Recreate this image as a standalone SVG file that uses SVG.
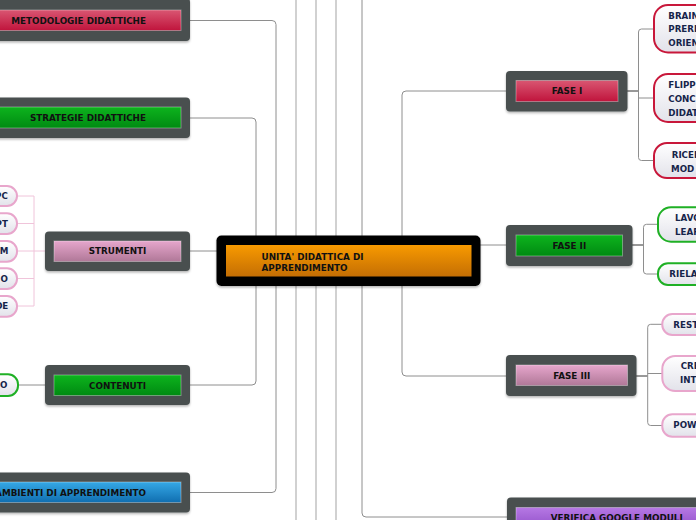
<svg xmlns="http://www.w3.org/2000/svg" width="696" height="520" viewBox="0 0 696 520">
<defs>
<linearGradient id="gRed" x1="0" y1="0" x2="0" y2="1"><stop offset="0" stop-color="#d95672"/><stop offset="1" stop-color="#c0143c"/></linearGradient>
<linearGradient id="gGreen" x1="0" y1="0" x2="0" y2="1"><stop offset="0" stop-color="#0db41d"/><stop offset="1" stop-color="#008a12"/></linearGradient>
<linearGradient id="gPink" x1="0" y1="0" x2="0" y2="1"><stop offset="0" stop-color="#e6a6cc"/><stop offset="1" stop-color="#b07898"/></linearGradient>
<linearGradient id="gBlue" x1="0" y1="0" x2="0" y2="1"><stop offset="0" stop-color="#35a8e6"/><stop offset="1" stop-color="#106eb0"/></linearGradient>
<linearGradient id="gOrange" x1="0" y1="0" x2="0" y2="1"><stop offset="0" stop-color="#f89a00"/><stop offset="1" stop-color="#c46e04"/></linearGradient>
<linearGradient id="gPurple" x1="0" y1="0" x2="0" y2="1"><stop offset="0" stop-color="#b678e4"/><stop offset="1" stop-color="#9150c8"/></linearGradient>
<linearGradient id="gPill" x1="0" y1="0" x2="0" y2="1"><stop offset="0" stop-color="#ffffff"/><stop offset="1" stop-color="#e2e2ea"/></linearGradient>
<filter id="sh" x="-10%" y="-20%" width="120%" height="150%"><feDropShadow dx="0" dy="1.5" stdDeviation="1.2" flood-color="#000" flood-opacity="0.3"/></filter>
</defs>
<style>
.frame{fill:#484f4f;filter:url(#sh)}
.bar{stroke:rgba(255,255,255,0.35);stroke-width:1}
.t{font-family:"DejaVu Sans",Verdana,sans-serif;font-weight:bold;font-size:8.8px;fill:#111}
.c{font-family:"DejaVu Sans",Verdana,sans-serif;font-weight:bold;font-size:8.7px;fill:#16244a}
.pill{fill:url(#gPill);stroke-width:2}
.pr{stroke:#c8173a}.pg{stroke:#1fb025}.pp{stroke:#e8a6cc}
.ln{fill:none;stroke:#8e8e8e;stroke-width:1}
.lt{fill:none;stroke:#c2c2c2;stroke-width:1.5}
.ld{fill:none;stroke:#333;stroke-width:1}
.lp{fill:none;stroke:#f0c4da;stroke-width:1}
</style>
<g id="connectors">
<path class="lt" d="M296,0V520M316,0V520M336,0V520"/>
<path class="ln" d="M362,0V513Q362,517 366,517H507"/>
<path class="ln" d="M190,20.5H272Q276,20.5 276,24.5V260"/>
<path class="ln" d="M190,492.5H272Q276,492.5 276,488.5V260"/>
<path class="ln" d="M190,118H252Q256,118 256,122V260"/>
<path class="ln" d="M190,385H252Q256,385 256,381V260"/>
<path class="ln" d="M190,251H220"/>
<path class="ln" d="M18,385H45"/>
<path class="ln" d="M402,260V95Q402,91 406,91H507"/>
<path class="ln" d="M402,260V372Q402,376 406,376H507"/>
<path class="ln" d="M478,245H507"/>
<path class="ld" d="M627,91H638.5"/>
<path class="ln" d="M654,29H641.5Q638.5,29 638.5,32V157.5Q638.5,160.5 641.5,160.5H654M638.5,98H654"/>
<path class="ld" d="M632,245H643.5"/>
<path class="ln" d="M658,224.3H646.5Q643.5,224.3 643.5,227.3V271Q643.5,274 646.5,274H658"/>
<path class="ld" d="M636,376H647.7"/>
<path class="ln" d="M662,324.3H650.7Q647.7,324.3 647.7,327.3V422.5Q647.7,425.5 650.7,425.5H662M647.7,373.5H662"/>
<path class="lp" d="M17,196H34V306H17M17,223.5H34M17,251H45M17,278.5H34"/>
</g>
<g id="metodologie"><rect class="frame" x="-40" y="-2" width="230" height="43" rx="4"/><rect class="bar" x="-30" y="10" width="211" height="20.5" fill="url(#gRed)"/><text class="t" x="146" y="23.6" text-anchor="end">METODOLOGIE DIDATTICHE</text></g>
<g id="strategie"><rect class="frame" x="-40" y="97.5" width="230" height="40.5" rx="4"/><rect class="bar" x="-30" y="107" width="211" height="21" fill="url(#gGreen)"/><text class="t" x="146" y="121" text-anchor="end">STRATEGIE DIDATTICHE</text></g>
<g id="strumenti"><rect class="frame" x="45" y="231.5" width="145" height="39.5" rx="4"/><rect class="bar" x="54" y="241" width="127" height="20.5" fill="url(#gPink)"/><text class="t" x="117.5" y="254.3" text-anchor="middle">STRUMENTI</text></g>
<g id="contenuti"><rect class="frame" x="45" y="365" width="145" height="40" rx="4"/><rect class="bar" x="54" y="375" width="127" height="20.5" fill="url(#gGreen)"/><text class="t" x="117.5" y="388.6" text-anchor="middle">CONTENUTI</text></g>
<g id="ambienti"><rect class="frame" x="-40" y="472.5" width="230" height="40" rx="4"/><rect class="bar" x="-30" y="482" width="211" height="20.5" fill="url(#gBlue)"/><text class="t" x="146" y="495.8" text-anchor="end">AMBIENTI DI APPRENDIMENTO</text></g>
<g id="centrale"><rect x="216.5" y="235.5" width="264" height="50.5" rx="5" fill="#000" filter="url(#sh)"/><rect x="226" y="245" width="245.5" height="31.5" fill="url(#gOrange)"/><text class="t" x="261.5" y="259.5">UNITA' DIDATTICA DI</text><text class="t" x="261.5" y="271">APPRENDIMENTO</text></g>
<g id="fase1"><rect class="frame" x="506" y="71" width="121.5" height="40.5" rx="4"/><rect class="bar" x="516" y="80.5" width="102" height="21" fill="url(#gRed)"/><text class="t" x="567" y="94.3" text-anchor="middle">FASE I</text></g>
<g id="fase2"><rect class="frame" x="506" y="225" width="126.5" height="41" rx="4"/><rect class="bar" x="516" y="235" width="106.5" height="21" fill="url(#gGreen)"/><text class="t" x="569.3" y="248.7" text-anchor="middle">FASE II</text></g>
<g id="fase3"><rect class="frame" x="506" y="355" width="130.5" height="41" rx="4"/><rect class="bar" x="516" y="365" width="111.5" height="20.5" fill="url(#gPink)"/><text class="t" x="571.7" y="378.7" text-anchor="middle">FASE III</text></g>
<g id="verifica"><rect class="frame" x="507" y="497.5" width="220" height="40" rx="4"/><rect class="bar" x="516" y="507.5" width="202" height="21" fill="url(#gPurple)"/><text class="t" x="616.7" y="521" text-anchor="middle">VERIFICA GOOGLE MODULI</text></g>
<g id="brain"><rect class="pill pr" x="654" y="5" width="80" height="47.5" rx="14"/><text class="c" x="668.3" y="18.8">BRAIN</text><text class="c" x="668.3" y="32.2">PRERE</text><text class="c" x="668.3" y="45.5">ORIEN</text></g>
<g id="flipp"><rect class="pill pr" x="654" y="74" width="80" height="48" rx="14"/><text class="c" x="668.3" y="88">FLIPP</text><text class="c" x="668.3" y="101.8">CONC</text><text class="c" x="668.3" y="115.8">DIDAT</text></g>
<g id="ricer"><rect class="pill pr" x="654" y="143" width="80" height="35" rx="13"/><text class="c" x="671.7" y="158">RICER</text><text class="c" x="671" y="171.5">MOD</text></g>
<g id="lavo"><rect class="pill pg" x="658" y="207.3" width="80" height="34.4" rx="13"/><text class="c" x="675" y="221.4">LAVO</text><text class="c" x="675" y="234.8">LEAR</text></g>
<g id="riela"><rect class="pill pg" x="658" y="263.3" width="80" height="21.7" rx="10"/><text class="c" x="669.3" y="277.4">RIELA</text></g>
<g id="rest"><rect class="pill pp" x="662.3" y="314" width="80" height="21" rx="10"/><text class="c" x="673.3" y="327.5">REST</text></g>
<g id="cre"><rect class="pill pp" x="662.3" y="356" width="80" height="35" rx="13"/><text class="c" x="680.7" y="369.2">CRE</text><text class="c" x="680" y="383.2">INT</text></g>
<g id="pow"><rect class="pill pp" x="662.3" y="414.3" width="80" height="22.4" rx="10"/><text class="c" x="673.3" y="428.3">POW</text></g>
<g id="pc"><rect class="pill pp" x="-60" y="186" width="77" height="20" rx="10"/><text class="c" x="7.8" y="199.2" text-anchor="end">PC</text></g>
<g id="pt"><rect class="pill pp" x="-60" y="213.3" width="77" height="20.7" rx="10"/><text class="c" x="7.8" y="226.7" text-anchor="end">PT</text></g>
<g id="m"><rect class="pill pp" x="-60" y="241" width="77" height="20.7" rx="10"/><text class="c" x="8.3" y="254.3" text-anchor="end">M</text></g>
<g id="o"><rect class="pill pp" x="-60" y="268.3" width="77" height="20.7" rx="10"/><text class="c" x="7.8" y="281.7" text-anchor="end">O</text></g>
<g id="de"><rect class="pill pp" x="-60" y="296" width="77" height="20.7" rx="10"/><text class="c" x="8.3" y="309.3" text-anchor="end">DE</text></g>
<g id="contenuti-o"><rect class="pill pg" x="-60" y="374.3" width="78" height="21.7" rx="10"/><text class="c" x="7.5" y="388.3" text-anchor="end">O</text></g>
</svg>
